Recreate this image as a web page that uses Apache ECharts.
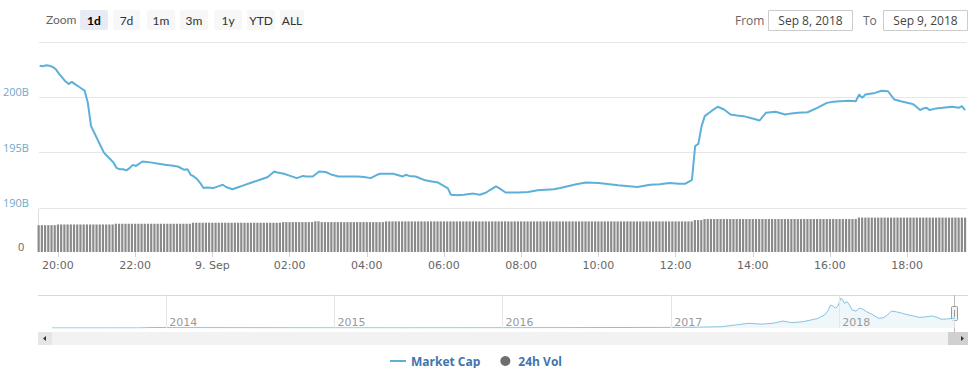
<!DOCTYPE html>
<html><head><meta charset="utf-8">
<script src="https://cdn.jsdelivr.net/npm/echarts@6/dist/echarts.min.js"></script>
<style>html,body{margin:0;padding:0;background:#fff}#c{width:980px;height:368px}</style>
</head><body><div id="c"></div>
<script>
// ---------- DATA ----------
const mcTimes = [
'2018-09-08 19:30','2018-09-08 19:35','2018-09-08 19:40','2018-09-08 19:45','2018-09-08 19:50','2018-09-08 19:55',
'2018-09-08 20:00','2018-09-08 20:05','2018-09-08 20:10','2018-09-08 20:15','2018-09-08 20:20','2018-09-08 20:25',
'2018-09-08 20:30','2018-09-08 20:35','2018-09-08 20:40','2018-09-08 20:45','2018-09-08 20:50','2018-09-08 20:55',
'2018-09-08 21:00','2018-09-08 21:05','2018-09-08 21:10','2018-09-08 21:15','2018-09-08 21:20','2018-09-08 21:25',
'2018-09-08 21:30','2018-09-08 21:35','2018-09-08 21:40','2018-09-08 21:45','2018-09-08 21:50','2018-09-08 21:55',
'2018-09-08 22:00','2018-09-08 22:10','2018-09-08 22:25','2018-09-08 22:35','2018-09-08 22:45','2018-09-08 22:55',
'2018-09-08 23:05','2018-09-08 23:15','2018-09-08 23:20','2018-09-08 23:25','2018-09-08 23:30','2018-09-08 23:35',
'2018-09-08 23:40','2018-09-08 23:45','2018-09-08 23:50',
'2018-09-09 00:00','2018-09-09 00:10','2018-09-09 00:15','2018-09-09 00:20','2018-09-09 00:30','2018-09-09 00:40',
'2018-09-09 00:45','2018-09-09 01:00','2018-09-09 01:15','2018-09-09 01:25','2018-09-09 01:35','2018-09-09 01:40',
'2018-09-09 01:50','2018-09-09 02:00','2018-09-09 02:10','2018-09-09 02:20','2018-09-09 02:25','2018-09-09 02:35',
'2018-09-09 02:45','2018-09-09 02:55','2018-09-09 03:05','2018-09-09 03:15','2018-09-09 03:30','2018-09-09 03:45',
'2018-09-09 03:55','2018-09-09 04:05','2018-09-09 04:15','2018-09-09 04:20','2018-09-09 04:40','2018-09-09 04:55',
'2018-09-09 05:00','2018-09-09 05:05','2018-09-09 05:15','2018-09-09 05:30','2018-09-09 05:40','2018-09-09 05:50',
'2018-09-09 06:00','2018-09-09 06:05','2018-09-09 06:10','2018-09-09 06:20','2018-09-09 06:30','2018-09-09 06:45',
'2018-09-09 06:55','2018-09-09 07:05','2018-09-09 07:10','2018-09-09 07:20','2018-09-09 07:25','2018-09-09 07:35',
'2018-09-09 07:55','2018-09-09 08:10','2018-09-09 08:25','2018-09-09 08:50','2018-09-09 09:00','2018-09-09 09:10',
'2018-09-09 09:25','2018-09-09 09:40','2018-09-09 10:00','2018-09-09 10:30','2018-09-09 11:00','2018-09-09 11:20',
'2018-09-09 11:35','2018-09-09 11:50','2018-09-09 12:05','2018-09-09 12:15','2018-09-09 12:25','2018-09-09 12:30',
'2018-09-09 12:35','2018-09-09 12:40','2018-09-09 12:45','2018-09-09 12:55','2018-09-09 13:05','2018-09-09 13:15',
'2018-09-09 13:25','2018-09-09 13:35','2018-09-09 13:45','2018-09-09 13:55','2018-09-09 14:05','2018-09-09 14:10',
'2018-09-09 14:20','2018-09-09 14:35','2018-09-09 14:50','2018-09-09 15:00','2018-09-09 15:10','2018-09-09 15:25',
'2018-09-09 15:40','2018-09-09 15:55','2018-09-09 16:05','2018-09-09 16:15','2018-09-09 16:30','2018-09-09 16:40',
'2018-09-09 16:45','2018-09-09 16:50','2018-09-09 16:55','2018-09-09 17:10','2018-09-09 17:20','2018-09-09 17:30',
'2018-09-09 17:40','2018-09-09 17:50','2018-09-09 18:05','2018-09-09 18:10','2018-09-09 18:20','2018-09-09 18:25',
'2018-09-09 18:30','2018-09-09 18:35','2018-09-09 18:45','2018-09-09 18:55','2018-09-09 19:10','2018-09-09 19:20',
'2018-09-09 19:25','2018-09-09 19:30'
];
// Market cap, billions USD
const mcValues = [
202.85,202.8,202.9,202.85,202.75,202.55,
202.15,201.8,201.45,201.2,201.4,201.2,
201.0,200.8,200.6,199.5,197.4,196.8,
196.2,195.6,195.0,194.7,194.4,194.1,
193.6,193.5,193.5,193.4,193.6,193.9,
193.8,194.2,194.1,194.0,193.9,193.85,
193.75,193.45,193.5,193.0,192.85,192.6,
192.25,191.8,191.85,
191.8,192.0,192.1,191.9,191.7,191.9,
192.0,192.3,192.6,192.8,193.3,193.2,
193.1,192.9,192.7,192.9,192.85,192.85,
193.3,193.25,193.0,192.85,192.85,192.85,
192.8,192.7,193.0,193.1,193.1,192.85,
193.0,192.9,192.85,192.5,192.4,192.3,
191.95,191.8,191.2,191.15,191.2,191.3,
191.2,191.4,191.6,191.95,191.8,191.4,
191.4,191.45,191.6,191.7,191.8,191.95,
192.15,192.3,192.25,192.05,191.9,192.1,
192.15,192.25,192.2,192.2,192.55,195.6,
195.8,197.4,198.3,198.75,199.15,198.9,
198.45,198.35,198.3,198.15,198.0,197.9,
198.6,198.7,198.45,198.55,198.6,198.65,
199.05,199.5,199.6,199.65,199.7,199.65,
200.25,199.95,200.25,200.4,200.6,200.55,
199.8,199.65,199.45,199.35,198.85,199.0,
199.05,198.85,199.0,199.05,199.15,199.05,
199.2,198.85
];
// 24h volume, billions USD, one bar every 5 minutes from volStart
const volStart = '2018-09-08 19:30';
const volStepMinutes = 5;
const volValues = [
13.1,13.1,13.1,13.1,13.1,13.1,
13.45,13.45,13.45,13.45,13.45,13.45,13.45,13.45,13.45,13.45,13.45,13.45,13.45,13.45,13.45,13.45,13.45,13.45,
13.8,13.8,13.8,13.8,13.8,13.8,13.8,13.8,13.8,13.8,13.8,13.8,13.8,13.8,13.8,13.8,13.8,13.8,13.8,13.8,13.8,13.8,13.8,13.8,
14.3,14.3,14.3,14.3,14.3,14.3,14.3,14.3,14.3,14.3,14.3,14.3,14.3,14.3,14.3,14.3,14.3,14.3,14.3,14.3,14.3,14.3,14.3,14.3,14.3,14.3,14.3,14.3,
14.6,14.6,14.6,14.6,14.6,14.6,14.6,14.6,14.6,14.6,15.0,15.0,14.6,14.6,14.6,14.6,14.6,14.6,14.6,14.6,14.6,14.6,14.6,14.6,14.6,14.6,14.6,14.6,14.6,14.6,14.6,14.6,
14.95,14.95,14.95,14.95,14.95,14.95,14.95,14.95,14.95,14.95,14.95,14.95,14.95,14.95,14.95,14.95,
14.95,14.95,14.95,14.95,14.95,14.95,14.95,14.95,14.95,14.95,14.95,14.95,14.95,14.95,14.95,14.95,
14.95,14.95,14.95,14.95,14.95,14.95,14.95,14.95,14.95,14.95,14.95,14.95,14.95,14.95,14.95,14.95,
14.95,14.95,14.95,14.95,14.95,14.95,14.95,14.95,14.95,14.95,14.95,14.95,14.95,14.95,14.95,14.95,
14.95,14.95,14.95,14.95,14.95,14.95,14.95,14.95,14.95,14.95,14.95,14.95,14.95,14.95,14.95,14.95,
14.95,14.95,14.95,14.95,14.95,14.95,14.95,14.95,14.95,14.95,14.95,14.95,14.95,14.95,14.95,14.95,
15.6,15.6,15.6,
16.1,16.1,16.1,16.1,16.1,16.1,16.1,16.1,16.1,16.1,16.1,16.1,16.1,16.1,16.1,16.1,
16.1,16.1,16.1,16.1,16.1,16.1,16.1,16.1,16.1,16.1,16.1,16.1,16.1,16.1,16.1,16.1,
16.1,16.1,16.1,16.1,16.1,16.1,16.1,16.1,16.1,16.1,16.1,16.1,16.1,16.1,16.1,16.1,
16.8,16.8,16.8,16.8,16.8,16.8,16.8,16.8,16.8,16.8,16.8,16.8,16.8,16.8,16.8,16.8,16.8,
16.8,16.8,16.8,16.8,16.8,16.8,16.8,16.8,16.8,16.8,16.8,16.8,16.8,16.8,16.8,16.8,16.8
];
// Navigator: all-time total market cap, billions USD
const navDates = [
'2013-04-28','2013-08-01','2013-11-01','2013-12-04','2014-01-15','2014-06-01','2014-12-01','2015-06-01',
'2015-12-01','2016-06-15','2016-12-31','2017-03-01','2017-04-20','2017-05-25','2017-06-17','2017-07-17',
'2017-08-10','2017-09-01','2017-09-20','2017-10-15','2017-10-30','2017-11-15','2017-11-30','2017-12-07',
'2017-12-13','2017-12-18','2017-12-23','2017-12-29','2018-01-04','2018-01-08','2018-01-12','2018-01-18',
'2018-01-24','2018-01-29','2018-02-06','2018-02-13','2018-02-20','2018-03-01','2018-03-12','2018-03-27',
'2018-04-06','2018-04-15','2018-04-24','2018-05-05','2018-05-18','2018-05-31','2018-06-10','2018-06-22',
'2018-07-05','2018-07-20','2018-07-30','2018-08-11','2018-08-22','2018-09-03','2018-09-09'
];
const navValues = [
1.5,1.3,2.5,14,11,8,5,3.5,
6,11,17,23,35,90,128,105,
130,190,145,175,215,260,355,470,
628,600,538,600,811,780,674,718,
600,491,460,538,520,445,380,265,
280,350,464,440,400,355,330,292,
300,328,300,238,245,265,262
];
// Tick labels
const xTickTimes = [
'2018-09-08 20:00','2018-09-08 22:00','2018-09-09 00:00','2018-09-09 02:00','2018-09-09 04:00','2018-09-09 06:00',
'2018-09-09 08:00','2018-09-09 10:00','2018-09-09 12:00','2018-09-09 14:00','2018-09-09 16:00','2018-09-09 18:00'
];
const navYearTicks = ['2014-01-01','2015-01-01','2016-01-01','2017-01-01','2018-01-01'];
const priceAxis = { min: 190, max: 205, interval: 5 };
const volAxis = { min: 0, max: 21 };
const xRange = ['2018-09-08 19:29', '2018-09-09 19:33'];
const monthNames = ['Jan','Feb','Mar','Apr','May','Jun','Jul','Aug','Sep','Oct','Nov','Dec'];
const zoomButtons = ['1d','7d','1m','3m','1y','YTD','ALL'];
const selectedButton = '1d';
const fromDate = 'Sep 8, 2018';
const toDate = 'Sep 9, 2018';
const seriesNames = ['Market Cap', '24h Vol'];

// ---------- helpers ----------
function parseT(s) {
  const m = s.match(/(\d+)-(\d+)-(\d+)(?: (\d+):(\d+))?/);
  return new Date(+m[1], +m[2]-1, +m[3], m[4] ? +m[4] : 0, m[5] ? +m[5] : 0).getTime();
}
const pad = n => (n < 10 ? '0' : '') + n;
const mcData = mcTimes.map((t, i) => [parseT(t), mcValues[i]]);
const v0 = parseT(volStart);
const volData = volValues.map((v, i) => [v0 + i * volStepMinutes * 60000, v]);
const navData = navDates.map((t, i) => [parseT(t), navValues[i]]);
const xTicks = xTickTimes.map(parseT);
const yearTicks = navYearTicks.map(parseT);

// ---------- layout (graphics for toolbar / scrollbar) ----------
const btnX = [80, 113, 147, 180, 214, 247, 280];
const btnW = [28, 27, 28, 28, 28, 28, 24];
const graphics = [];
graphics.push({ type:'text', left:46, top:13, style:{ text:'Zoom', fill:'#666', font:'12px Lato, sans-serif' } });
zoomButtons.forEach((b, i) => {
  const sel = b === selectedButton;
  graphics.push({ type:'rect', shape:{ x:btnX[i], y:10, width:btnW[i], height:20, r:2 },
    style:{ fill: sel ? '#e6ebf5' : '#f7f7f7' } });
  graphics.push({ type:'text', x: btnX[i] + btnW[i]/2, y: 20,
    style:{ text:b, fill: sel ? '#000' : '#333', font:(sel ? 'bold ' : '') + '12px Lato, sans-serif',
      align:'center', verticalAlign:'middle' } });
});
graphics.push({ type:'text', x:735, y:20, style:{ text:'From', fill:'#666', font:'12px "Open Sans", sans-serif', verticalAlign:'middle' } });
graphics.push({ type:'rect', shape:{ x:768.5, y:10.5, width:84, height:20 }, style:{ fill:'#fff', stroke:'#cccccc', lineWidth:1 } });
graphics.push({ type:'text', x:810.5, y:20.5, style:{ text:fromDate, fill:'#444', font:'12px "Open Sans", sans-serif', align:'center', verticalAlign:'middle' } });
graphics.push({ type:'text', x:863, y:20, style:{ text:'To', fill:'#666', font:'12px "Open Sans", sans-serif', verticalAlign:'middle' } });
graphics.push({ type:'rect', shape:{ x:883.5, y:10.5, width:84, height:20 }, style:{ fill:'#fff', stroke:'#cccccc', lineWidth:1 } });
graphics.push({ type:'text', x:925.5, y:20.5, style:{ text:toDate, fill:'#444', font:'12px "Open Sans", sans-serif', align:'center', verticalAlign:'middle' } });
// navigator outline
graphics.push({ type:'line', shape:{ x1:38, y1:295.5, x2:968, y2:295.5 }, style:{ stroke:'#d8d8d8', lineWidth:1 } });
graphics.push({ type:'line', shape:{ x1:954.5, y1:295, x2:954.5, y2:332 }, style:{ stroke:'#b8b8b8', lineWidth:1 } });
// scrollbar
graphics.push({ type:'rect', shape:{ x:38, y:332, width:930, height:13 }, style:{ fill:'#f2f2f2' } });
graphics.push({ type:'rect', shape:{ x:38, y:332, width:14, height:13 }, style:{ fill:'#e6e6e6' } });
graphics.push({ type:'polygon', shape:{ points:[[43,338.5],[46,336],[46,341]] }, style:{ fill:'#333' } });
graphics.push({ type:'rect', shape:{ x:948, y:332, width:20, height:13 }, style:{ fill:'#d0d0d0' } });
graphics.push({ type:'polygon', shape:{ points:[[964,338.5],[961,336],[961,341]] }, style:{ fill:'#333' } });
// navigator handle
graphics.push({ type:'rect', shape:{ x:951.5, y:306.5, width:6, height:14, r:1 }, style:{ fill:'#f2f2f2', stroke:'#999', lineWidth:1 } });
graphics.push({ type:'line', shape:{ x1:954.5, y1:310, x2:954.5, y2:317 }, style:{ stroke:'#999', lineWidth:1 } });

// ---------- chart ----------
const chart = echarts.init(document.getElementById('c'), null, { renderer:'svg' });
const axisFont = 'DejaVu Sans, sans-serif';
function fmtTime(val) {
  const d = new Date(val);
  if (d.getHours() === 0 && d.getMinutes() === 0) return d.getDate() + '. ' + monthNames[d.getMonth()];
  return pad(d.getHours()) + ':' + pad(d.getMinutes());
}
chart.setOption({
  animation: false,
  backgroundColor: '#fff',
  graphic: graphics,
  legend: {
    left: 385, top: 350, itemGap: 20, itemWidth: 16, itemHeight: 10,
    textStyle: { color:'#3f75ae', fontWeight:'bold', fontSize:12, fontFamily:'"Open Sans", sans-serif' },
    data: [ { name: seriesNames[0], icon:'path://M0,0L0.01,0L0.01,0.01L0,0.01ZM0,4L16,4L16,6L0,6ZM0,9.99L0.01,9.99L0.01,10L0,10Z' },
            { name: seriesNames[1], icon:'circle', itemStyle:{ color:'#6e6e6e' } } ]
  },
  grid: [
    { left: 38, right: 13, top: 42, height: 166 },
    { left: 38, right: 13, top: 209, height: 43 },
    { left: 52, right: 25, top: 295, height: 33 }
  ],
  xAxis: [
    { type:'value', gridIndex:0, min: parseT(xRange[0]), max: parseT(xRange[1]),
      axisLine:{show:false}, axisTick:{show:false}, axisLabel:{show:false}, splitLine:{show:false} },
    { type:'value', gridIndex:1, min: parseT(xRange[0]), max: parseT(xRange[1]),
      axisLine:{show:false}, axisTick:{show:true, length:5, lineStyle:{color:'#ccd6eb'}, customValues: xTicks},
      splitLine:{show:false},
      axisLabel:{ customValues: xTicks, color:'#666', fontSize:11, fontFamily:axisFont, margin:8, hideOverlap:false,
        formatter: fmtTime } },
    { type:'value', gridIndex:2, min: navData[0][0], max: navData[navData.length-1][0], z: 5,
      axisLine:{show:false}, axisTick:{show:false, customValues: yearTicks},
      splitLine:{show:true, lineStyle:{color:'#e6e6e6', width:1}},
      axisLabel:{ customValues: yearTicks, inside:true, margin:0, align:'left', padding:[0,0,0,3], color:'#999', fontSize:11, fontFamily:axisFont,
        formatter: function (val) { return String(new Date(val).getFullYear()); } } }
  ],
  yAxis: [
    { type:'value', gridIndex:0, min: priceAxis.min, max: priceAxis.max, interval: priceAxis.interval,
      axisLine:{show:false}, axisTick:{show:false},
      splitLine:{ lineStyle:{ color:'#e6e6e6' } },
      axisLabel:{ showMaxLabel:false, formatter:'{value}B', color:'#6fa8cc', fontSize:11, fontFamily:'"Open Sans", sans-serif',
        align:'left', margin:36, verticalAlign:'bottom', padding:[0,0,0,0] } },
    { type:'value', gridIndex:1, min: volAxis.min, max: volAxis.max, interval: volAxis.max - volAxis.min,
      axisLine:{show:true, lineStyle:{color:'#e0e0e0'}}, axisTick:{show:false}, splitLine:{show:false},
      axisLabel:{ showMaxLabel:false, color:'#666', fontSize:11, fontFamily:'"Open Sans", sans-serif',
        align:'left', margin:20, verticalAlign:'bottom', padding:[0,0,0,0] } },
    { type:'value', gridIndex:2, min: 0, max: 900, show:false, splitLine:{show:false} }
  ],
  series: [
    { name: seriesNames[0], type:'line', xAxisIndex:0, yAxisIndex:0, data: mcData,
      symbol:'none', showSymbol:false, lineStyle:{ color:'#5db0d8', width:2 }, itemStyle:{ color:'#5db0d8' } },
    { name: seriesNames[1], type:'bar', xAxisIndex:1, yAxisIndex:1, data: volData,
      barWidth: 2.2, itemStyle:{ color:'#8a8a8a' } },
    { type:'line', xAxisIndex:2, yAxisIndex:2, data: navData, symbol:'none', showSymbol:false, z: 1,
      lineStyle:{ color:'#86c2dd', width:1 }, areaStyle:{ color:'#e9f4fa' } }
  ]
});
</script>
</body></html>
